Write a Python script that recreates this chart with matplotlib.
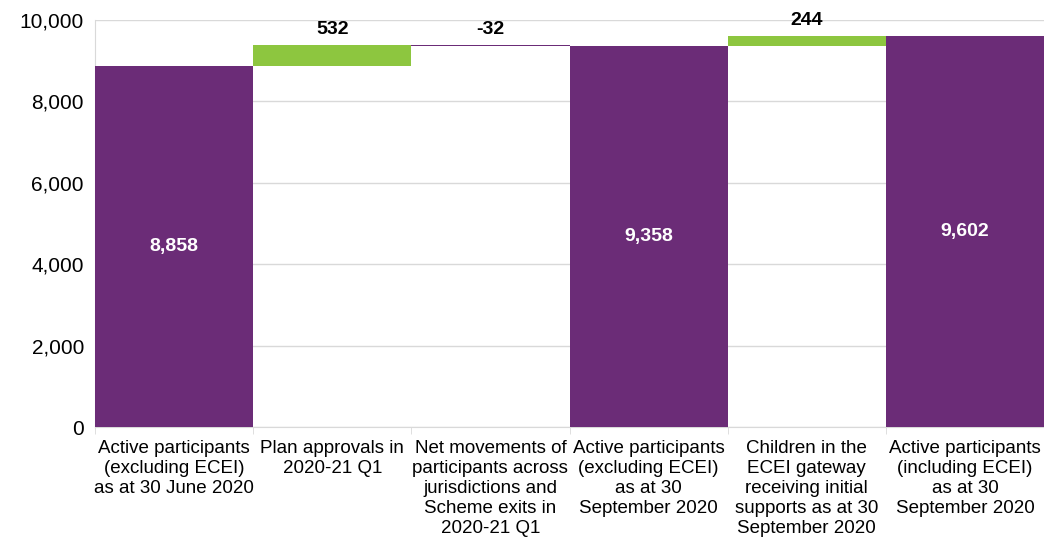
import matplotlib
matplotlib.use("Agg")
import matplotlib.pyplot as plt
import numpy as np

plt.rcParams['font.family'] = ['Liberation Sans', 'DejaVu Sans']

# data
categories = ["Active participants\n(excluding ECEI)\nas at 30 June 2020",
              "Plan approvals in\n2020-21 Q1",
              "Net movements of\nparticipants across\njurisdictions and\nScheme exits in\n2020-21 Q1",
              "Active participants\n(excluding ECEI)\nas at 30\nSeptember 2020",
              "Children in the\nECEI gateway\nreceiving initial\nsupports as at 30\nSeptember 2020",
              "Active participants\n(including ECEI)\nas at 30\nSeptember 2020"]
values = [8858, 532, -32, 9358, 244, 9602]
is_total = [True, False, False, True, False, True]
step_colours = ["#6B2C77", "#8DC63F", "#6B2C77", "#6B2C77", "#8DC63F", "#6B2C77"]

fig = plt.figure(figsize=(10.44, 5.4), dpi=100)
ax = fig.add_axes([0.091, 0.209, 0.909, 0.754])

# work out bar bottoms for the waterfall
running = 0
bottoms = []
heights = []
for v, tot in zip(values, is_total):
    if tot:
        bottoms.append(0)
        heights.append(v)
        running = v
    else:
        if v >= 0:
            bottoms.append(running)
        else:
            bottoms.append(running + v)
        heights.append(abs(v))
        running = running + v

x = np.arange(len(categories))
ax.bar(x, heights, bottom=bottoms, width=1.0, color=step_colours, zorder=3)

# value labels
for i, (v, tot) in enumerate(zip(values, is_total)):
    label = f"{v:,}"
    if tot:
        ax.text(x[i], v / 2, label, ha='center', va='center', color='white',
                fontsize=14, fontweight='bold', zorder=4)
    else:
        top = bottoms[i] + heights[i]
        ax.annotate(label, (x[i], top), xytext=(0, 11), textcoords='offset points',
                    ha='center', va='center', fontsize=14, fontweight='bold', zorder=4)

ax.set_xlim(-0.5, len(categories) - 0.5)
ax.set_ylim(0, 10000)
ax.set_yticks(np.arange(0, 10001, 2000))
ax.set_yticklabels([f"{t:,}" for t in range(0, 10001, 2000)], fontsize=15)
ax.tick_params(axis='y', length=0, pad=8)

ax.set_xticks(x)
ax.set_xticklabels(categories, fontsize=13.5, linespacing=1.24)
ax.tick_params(axis='x', which='major', length=0, pad=9)
ax.set_xticks(np.arange(-0.5, len(categories), 1.0), minor=True)
ax.tick_params(axis='x', which='minor', length=5, color='#d9d9d9')

ax.grid(axis='y', color='#d9d9d9', linewidth=1, zorder=0)
ax.set_axisbelow(True)
for s in ['top', 'right']:
    ax.spines[s].set_visible(False)
ax.spines['left'].set_color('#d9d9d9')
ax.spines['bottom'].set_color('#d9d9d9')

fig.savefig("out.png", dpi=100)
